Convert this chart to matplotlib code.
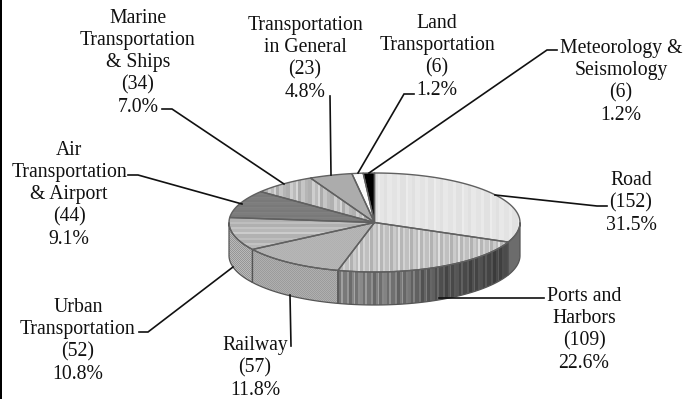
import numpy as np
import matplotlib
matplotlib.use('Agg')
import matplotlib.pyplot as plt
from matplotlib.patches import Polygon, Rectangle

# Papers per field
sCategories = ['Road', 'Ports and\nHarbors', 'Railway', 'Urban\nTransportation',
               'Air\nTransportation\n& Airport', 'Marine\nTransportation\n& Ships',
               'Transportation\nin General', 'Land\nTransportation',
               'Meteorology &\nSeismology']
nCounts = [152, 109, 57, 52, 44, 34, 23, 6, 6]

W, H = 688, 399
cx, cy, a, b, depth = 374.5, 222.5, 145.5, 49.5, 33

plt.rcParams['font.family'] = ['Liberation Serif']
fig = plt.figure(figsize=(W / 100, H / 100), dpi=100)
ax = fig.add_axes([0, 0, 1, 1])


# grey patterns, tiled over the whole canvas
def vstripes(levels, widths):
    row = np.resize(np.repeat(levels, widths), W)
    return np.tile(row, (H, 1)).astype(float)


def hstripes(levels, widths):
    col = np.resize(np.repeat(levels, widths), H)
    return np.tile(col[:, None], (1, W)).astype(float)


def dots(c1, c2):
    yy, xx = np.mgrid[0:H, 0:W]
    return np.where((xx + yy) % 2 == 0, c1, c2).astype(float)


def flat(c):
    return np.full((H, W), float(c))


ports_side = vstripes([150, 125, 170, 130, 160, 115, 145, 180, 125, 155], [3, 2, 2, 4, 2, 3, 2, 1, 3, 2])
ports_side = ports_side * np.interp(np.arange(W), [337, 400, 440, 507], [0.95, 0.85, 0.6, 0.5])

top_tex = [
    vstripes([228, 233, 225, 236, 229, 224, 232], [5, 3, 6, 2, 4, 3, 5]),
    vstripes([182, 210, 192, 220, 178, 203, 188, 224], [3, 2, 4, 1, 3, 3, 2, 2]),
    dots(176, 182),
    hstripes([176, 196, 184, 204, 178, 190], [3, 2, 3, 2, 4, 2]),
    hstripes([122, 128, 125], [2, 1, 2]),
    vstripes([176, 206, 188, 214, 172, 198, 182], [4, 3, 3, 2, 3, 4, 3]),
    flat(172),
    flat(250),
    flat(0),
]
side_tex = [flat(108), ports_side, dots(155, 175), dots(150, 185)]

fracs = np.array(nCounts) / sum(nCounts)
edges = np.concatenate([[0], np.cumsum(fracs)]) * 360


def rim(d1, d2, n=80):
    # angles run clockwise from 12 o'clock
    t = np.radians(np.linspace(d1, d2, n))
    return np.column_stack([cx + a * np.sin(t), cy - b * np.cos(t)])


def textured(poly, tex):
    im = ax.imshow(tex, cmap='gray', vmin=0, vmax=255, extent=(0, W, H, 0),
                   interpolation='nearest', aspect='auto', zorder=2)
    im.set_clip_path(Polygon(poly, closed=True, transform=ax.transData))


# wall of the disc, front half only
for i, (d1, d2) in enumerate(zip(edges[:-1], edges[1:])):
    s1, s2 = max(d1, 90), min(d2, 270)
    if s1 >= s2:
        continue
    arc = rim(s1, s2)
    wall = np.vstack([arc, (arc + [0, depth])[::-1]])
    textured(wall, side_tex[i])
    ax.add_patch(Polygon(wall, closed=True, fill=False, ec='#555555', lw=0.9, zorder=3))

# top face
for i, (d1, d2) in enumerate(zip(edges[:-1], edges[1:])):
    wedge = np.vstack([[cx, cy], rim(d1, d2)])
    textured(wedge, top_tex[i])
    ax.add_patch(Polygon(wedge, closed=True, fill=False, ec='#606060', lw=1.0,
                         joinstyle='round', zorder=4))

# label centres
nLabelX = [631, 584, 255, 78, 69, 138, 305, 437, 621]
nLabelY = [203, 330, 368, 341, 195, 63, 59, 57, 82]
for s, v, x, y in zip(sCategories, nCounts, nLabelX, nLabelY):
    txt = '%s\n(%d)\n%.1f%%' % (s, v, v / sum(nCounts) * 100)
    ax.text(x, y, txt, ha='center', va='center', ma='center', fontsize=14.2,
            linespacing=1.22, color='#111111', zorder=6)

# leader lines
leaders = [
    [(495, 195), (597, 206), (607, 206)],
    [(439, 298), (544, 298)],
    [(290, 295), (291, 346)],
    [(233, 267), (148, 332), (139, 332)],
    [(242, 204), (138, 175), (128, 175)],
    [(284, 184), (172, 109), (162, 109)],
    [(331, 175), (330, 96)],
    [(358, 173), (404, 94), (414, 94)],
    [(369, 173), (547, 50), (557, 50)],
]
for pts in leaders:
    xs, ys = zip(*pts)
    ax.plot(xs, ys, color='#111111', lw=1.2, zorder=5, solid_joinstyle='miter')

# black rule down the left side
ax.add_patch(Rectangle((0, 0), 2, H, fc='black', ec='none', zorder=7))

ax.set_xlim(0, W)
ax.set_ylim(H, 0)
ax.axis('off')
fig.savefig('out.png', dpi=100, facecolor='white')
